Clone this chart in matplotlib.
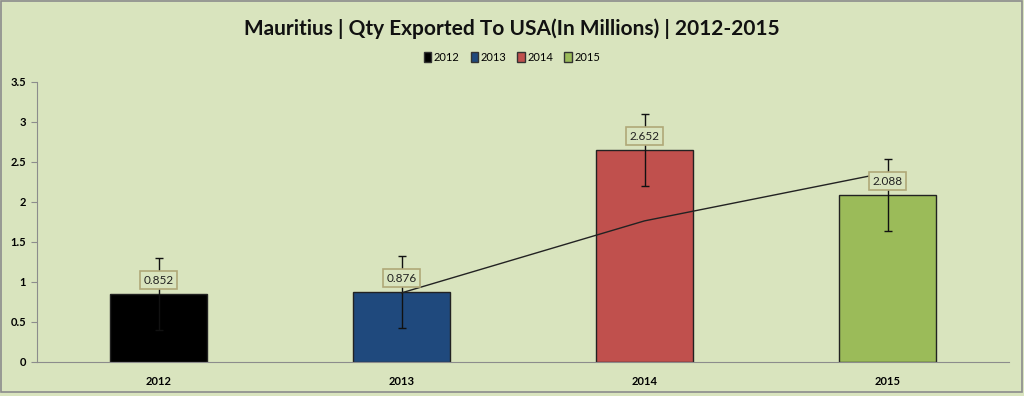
import matplotlib.pyplot as plt
from matplotlib.patches import Rectangle, Patch
import numpy as np

years = ["2012", "2013", "2014", "2015"]
qty = [0.852, 0.876, 2.652, 2.088]
err = [0.45, 0.45, 0.45, 0.45]
bar_colors = ["#000000", "#1F497D", "#C0504D", "#9BBB59"]
yticks = [0, 0.5, 1, 1.5, 2, 2.5, 3, 3.5]

bg = "#D9E4BE"
plt.rcParams['font.family'] = ['Lato', 'DejaVu Sans']

fig = plt.figure(figsize=(10.24, 3.96), dpi=100, facecolor=bg)
fig.patches.append(Rectangle((0.001, 0.01), 0.997, 0.987, transform=fig.transFigure,
                             fill=False, edgecolor="#8C8C8C", lw=1.2))

ax = fig.add_axes([37 / 1024, 34 / 396, 972 / 1024, 280 / 396])
ax.set_facecolor(bg)
x = np.arange(len(years))

ax.bar(x, qty, width=0.4, color=bar_colors, edgecolor="#222222", linewidth=1, zorder=2)
ax.errorbar(x, qty, yerr=err, fmt="none", ecolor="#111111", elinewidth=1, capsize=3, zorder=4)

# 2-period moving average trendline
ma = [(qty[i - 1] + qty[i]) / 2 for i in range(1, len(qty))]
ax.plot(x[1:], ma, color="#222222", lw=1, zorder=5)

for xi, v in zip(x, qty):
    ax.text(xi, v + 0.17, f"{v:g}", ha="center", va="center", fontsize=8.5, color="#222222",
            zorder=6, bbox=dict(boxstyle="square,pad=0.3", fc=bg, ec="#B0A878", lw=1.2))

ax.set_xlim(-0.5, 3.5)
ax.set_ylim(0, 3.5)
ax.set_xticks(x)
ax.set_xticklabels(years, fontweight="bold", fontsize=8)
ax.set_yticks(yticks)
ax.set_yticklabels([f"{t:g}" for t in yticks], fontweight="bold", fontsize=8)
ax.tick_params(axis="x", length=0, pad=10)
ax.tick_params(axis="y", length=4, color="#8C8C8C", pad=4)
for s in ["top", "right"]:
    ax.spines[s].set_visible(False)
for s in ["left", "bottom"]:
    ax.spines[s].set_color("#8C8C8C")

fig.text(0.5, 0.928, "Mauritius | Qty Exported To USA(In Millions) | 2012-2015",
         ha="center", va="center", fontsize=15, fontweight="bold", color="#111111")

handles = [Patch(facecolor=c, edgecolor="#333333", label=y) for c, y in zip(bar_colors, years)]
fig.legend(handles=handles, loc="center", bbox_to_anchor=(0.5, 0.855), ncol=4, frameon=False,
           fontsize=8, handlelength=0.7, handleheight=0.9, handletextpad=0.2, columnspacing=1.0)

fig.savefig("out.png", dpi=100, facecolor=bg)
